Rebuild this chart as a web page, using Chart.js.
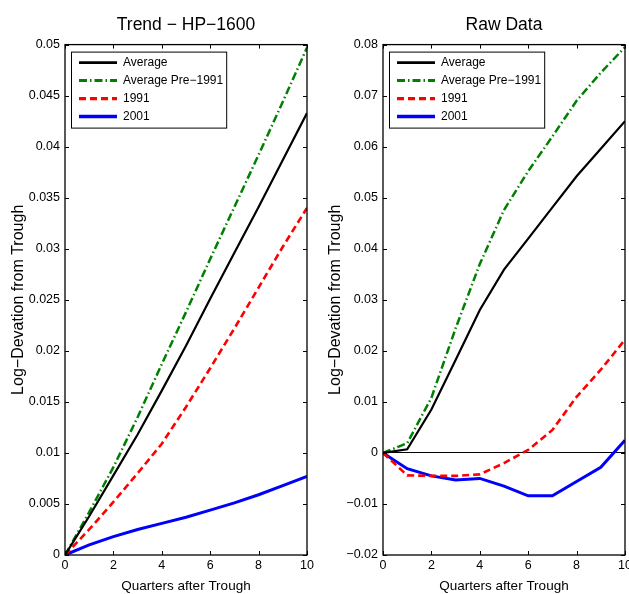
<!DOCTYPE html>
<html>
<head>
<meta charset="utf-8">
<script src="https://cdn.jsdelivr.net/npm/chart.js@4.4.0/dist/chart.umd.min.js"></script>
<style>
html, body { margin: 0; padding: 0; background: #fff; overflow: hidden; }
#wrap { position: relative; width: 629px; height: 594px; }
.panel { position: absolute; top: 0; height: 594px; }
#left { left: 0; width: 314px; }
#right { left: 314px; width: 315px; }
</style>
</head>
<body>
<div id="wrap">
  <div class="panel" id="left"><canvas id="trendChart" width="314" height="594"></canvas></div>
  <div class="panel" id="right"><canvas id="rawChart" width="315" height="594"></canvas></div>
</div>
<script>
// quarters after trough (x axis)
const quarters = [0, 1, 2, 3, 4, 5, 6, 7, 8, 9, 10];
const quarterTicks = [0, 2, 4, 6, 8, 10];
const seriesNames = ['Average', 'Average Pre\u22121991', '1991', '2001'];

// left panel: HP-1600 trend
const trendAvg  = [0, 0.0038, 0.0078, 0.0118, 0.0161, 0.0205, 0.0251, 0.0296, 0.0341, 0.0387, 0.0433];
const trendPre  = [0, 0.0042, 0.0086, 0.0135, 0.0187, 0.0238, 0.0290, 0.0341, 0.0392, 0.0444, 0.0497];
const trend1991 = [0, 0.0025, 0.0052, 0.0080, 0.0109, 0.0145, 0.0183, 0.0222, 0.0262, 0.0302, 0.0340];
const trend2001 = [0, 0.0010, 0.0018, 0.0025, 0.0031, 0.0037, 0.0044, 0.0051, 0.0059, 0.0068, 0.0077];
const trendYTicks = [0, 0.005, 0.01, 0.015, 0.02, 0.025, 0.03, 0.035, 0.04, 0.045, 0.05];

// right panel: raw data
const rawAvg  = [0, 0.0007, 0.0085, 0.0182, 0.0280, 0.0359, 0.0420, 0.0481, 0.0542, 0.0596, 0.0650];
const rawPre  = [0, 0.0019, 0.0108, 0.0244, 0.0370, 0.0476, 0.0552, 0.0620, 0.0690, 0.0745, 0.0795];
const raw1991 = [0, -0.0044, -0.0045, -0.0045, -0.0042, -0.0020, 0.0006, 0.0045, 0.0110, 0.0163, 0.0222];
const raw2001 = [0, -0.0031, -0.0045, -0.0053, -0.0050, -0.0065, -0.0084, -0.0084, -0.0056, -0.0028, 0.0025];
const rawYTicks = [-0.02, -0.01, 0, 0.01, 0.02, 0.03, 0.04, 0.05, 0.06, 0.07, 0.08];

const FONT = '"Liberation Sans", Arial, Helvetica, sans-serif';
const styles = [
  { borderColor: '#000000', borderWidth: 2.2, borderDash: [] },
  { borderColor: '#008000', borderWidth: 2.5, borderDash: [8, 3, 1.5, 3] },
  { borderColor: '#ff0000', borderWidth: 2.6, borderDash: [7, 4] },
  { borderColor: '#0000ff', borderWidth: 3, borderDash: [] }
];

function fmt(v) {
  const s = String(+Math.abs(v).toFixed(4));
  return v < 0 ? '\u2212' + s : s;
}

function points(vals) {
  return vals.map((v, i) => ({ x: quarters[i], y: v }));
}

// box + inward ticks like the original axes
const frame = {
  id: 'frame',
  afterDraw(chart) {
    const { ctx, chartArea: a, scales } = chart;
    ctx.save();
    ctx.strokeStyle = '#000';
    ctx.lineWidth = 1;
    ctx.beginPath();
    scales.x.ticks.forEach(t => {
      const px = Math.round(scales.x.getPixelForValue(t.value)) + 0.5;
      ctx.moveTo(px, a.bottom); ctx.lineTo(px, a.bottom - 4);
      ctx.moveTo(px, a.top); ctx.lineTo(px, a.top + 4);
    });
    scales.y.ticks.forEach(t => {
      const py = Math.round(scales.y.getPixelForValue(t.value)) + 0.5;
      ctx.moveTo(a.left, py); ctx.lineTo(a.left + 4, py);
      ctx.moveTo(a.right, py); ctx.lineTo(a.right - 4, py);
    });
    ctx.stroke();
    ctx.lineWidth = 1.3;
    ctx.strokeRect(a.left, a.top, a.right - a.left, a.bottom - a.top);
    ctx.restore();
  }
};

// boxed legend in the upper left of the plot
const legendBox = {
  id: 'legendBox',
  afterDraw(chart) {
    const { ctx, chartArea } = chart;
    const sets = chart.data.datasets;
    const x = chartArea.left + 6, y = chartArea.top + 7;
    ctx.save();
    ctx.font = '12px ' + FONT;
    const tw = Math.max(...sets.map(d => ctx.measureText(d.label).width));
    const w = 52 + tw + 3, h = 76;
    ctx.fillStyle = '#fff';
    ctx.fillRect(x, y, w, h);
    ctx.strokeStyle = '#000';
    ctx.lineWidth = 1;
    ctx.strokeRect(x + 0.5, y + 0.5, w, h);
    sets.forEach((d, i) => {
      const cy = y + 11 + 18 * i;
      ctx.beginPath();
      ctx.strokeStyle = d.borderColor;
      ctx.lineWidth = d.borderWidth + 0.5;
      ctx.setLineDash(d.borderDash);
      ctx.moveTo(x + 8, cy);
      ctx.lineTo(x + 46, cy);
      ctx.stroke();
      ctx.setLineDash([]);
      ctx.fillStyle = '#000';
      ctx.textBaseline = 'middle';
      ctx.fillText(d.label, x + 52, cy + 0.5);
    });
    ctx.restore();
  }
};

function makePanel(id, title, series, ymin, ymax, yTicks, yWidth, yTitleOffset, rightPad, zeroLine) {
  return new Chart(document.getElementById(id), {
    type: 'line',
    data: {
      datasets: series.map((vals, i) => ({
        label: seriesNames[i],
        data: points(vals),
        borderColor: styles[i].borderColor,
        borderWidth: styles[i].borderWidth,
        borderDash: styles[i].borderDash,
        pointRadius: 0,
        tension: 0,
        fill: false
      }))
    },
    options: {
      responsive: false,
      animation: false,
      layout: { padding: { top: 0, left: 0, right: rightPad, bottom: 0 } },
      plugins: {
        legend: { display: false },
        tooltip: { enabled: false },
        title: {
          display: true,
          fullSize: false,
          text: title,
          color: '#000',
          font: { family: FONT, size: 17.5, weight: 'normal' },
          padding: { top: 15, bottom: 8.6 }
        }
      },
      scales: {
        x: {
          type: 'linear',
          min: 0,
          max: 10,
          afterBuildTicks: s => { s.ticks = quarterTicks.map(v => ({ value: v })); },
          afterFit: s => { s.height = 39; s.paddingLeft = 0; s.paddingRight = 0; },
          ticks: { color: '#000', font: { family: FONT, size: 12.5 }, padding: 3, maxRotation: 0, autoSkip: false, callback: v => fmt(v) },
          grid: { display: false, drawTicks: false, tickLength: 0 },
          border: { display: false },
          title: { display: true, text: 'Quarters after Trough', color: '#000', font: { family: FONT, size: 13.5 }, padding: { top: 0, bottom: 0 } }
        },
        y: {
          type: 'linear',
          min: ymin,
          max: ymax,
          afterBuildTicks: s => { s.ticks = yTicks.map(v => ({ value: v })); },
          afterFit: s => { s.width = yWidth; },
          ticks: { color: '#000', font: { family: FONT, size: 12.5 }, padding: 5, autoSkip: false, callback: v => fmt(v) },
          grid: {
            display: zeroLine,
            drawTicks: false,
            tickLength: 0,
            lineWidth: 1,
            color: c => (c.tick && c.tick.value === 0) ? '#000' : 'rgba(0,0,0,0)'
          },
          border: { display: false },
          title: { display: true, text: 'Log\u2212Devation from Trough', color: '#000', font: { family: FONT, size: 16 }, padding: { top: yTitleOffset, bottom: 0 } }
        }
      }
    },
    plugins: [frame, legendBox]
  });
}

makePanel('trendChart', 'Trend \u2212 HP\u22121600', [trendAvg, trendPre, trend1991, trend2001], 0, 0.05, trendYTicks, 65, 9, 7, false);
makePanel('rawChart', 'Raw Data', [rawAvg, rawPre, raw1991, raw2001], -0.02, 0.08, rawYTicks, 69, 11.5, 4, true);
</script>
</body>
</html>
